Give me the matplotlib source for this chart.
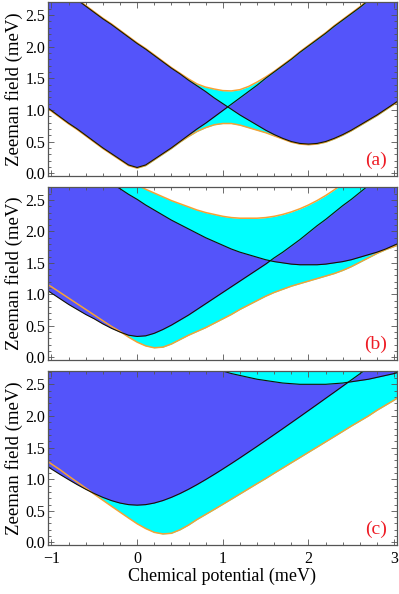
import matplotlib
matplotlib.use("Agg")
import matplotlib.pyplot as plt
import numpy as np
from matplotlib.ticker import MultipleLocator

plt.rcParams['font.family'] = ['Liberation Serif', 'DejaVu Serif']

# potencial químico (meV) onde as curvas foram lidas
mu = [-1.1, -1.0, -0.9, -0.8, -0.7, -0.6, -0.5, -0.4, -0.3, -0.2, -0.1,
      0.0, 0.1, 0.2, 0.3, 0.4, 0.5, 0.6, 0.7, 0.8, 0.9, 1.0,
      1.1, 1.2, 1.3, 1.4, 1.5, 1.6, 1.7, 1.8, 1.9, 2.0,
      2.1, 2.2, 2.3, 2.4, 2.5, 2.6, 2.7, 2.8, 2.9, 3.0, 3.1]

# painel (a)
a_black1 = [1.09, 0.99, 0.89, 0.79, 0.70, 0.60, 0.50, 0.40, 0.31, 0.22, 0.13,
            0.09, 0.13, 0.22, 0.31, 0.40, 0.50, 0.60, 0.70, 0.79, 0.89, 0.99,
            1.09, 1.19, 1.29, 1.39, 1.50, 1.60, 1.70, 1.80, 1.91, 2.01,
            2.11, 2.21, 2.32, 2.42, 2.52, 2.62, 2.73, 2.83, 2.93, 3.03, 3.13]
a_black2 = [3.13, 3.03, 2.94, 2.84, 2.74, 2.64, 2.54, 2.44, 2.35, 2.25, 2.15,
            2.05, 1.96, 1.86, 1.76, 1.66, 1.57, 1.47, 1.38, 1.29, 1.19, 1.10,
            1.01, 0.92, 0.84, 0.76, 0.68, 0.61, 0.55, 0.50, 0.47, 0.46,
            0.47, 0.50, 0.55, 0.61, 0.68, 0.76, 0.84, 0.92, 1.01, 1.10, 1.19]
a_orange_lo = [1.08, 0.98, 0.88, 0.78, 0.69, 0.59, 0.49, 0.39, 0.30, 0.21, 0.12,
               0.08, 0.12, 0.21, 0.30, 0.39, 0.49, 0.58, 0.66, 0.72, 0.765, 0.785,
               0.785, 0.76, 0.72, 0.68, 0.64, 0.59, 0.54, 0.49, 0.46, 0.45,
               0.46, 0.49, 0.54, 0.60, 0.67, 0.75, 0.83, 0.91, 1.00, 1.09, 1.18]
a_orange_up = [3.14, 3.04, 2.95, 2.85, 2.75, 2.65, 2.55, 2.45, 2.36, 2.26, 2.16,
               2.06, 1.97, 1.87, 1.77, 1.67, 1.58, 1.49, 1.41, 1.36, 1.33, 1.305,
               1.30, 1.32, 1.37, 1.44, 1.52, 1.61, 1.71, 1.81, 1.92, 2.02,
               2.12, 2.22, 2.33, 2.43, 2.53, 2.63, 2.74, 2.84, 2.94, 3.04, 3.14]

# painel (b)
b_black1 = [1.11, 1.02, 0.93, 0.84, 0.76, 0.68, 0.61, 0.53, 0.46, 0.40, 0.35,
            0.33, 0.34, 0.38, 0.44, 0.51, 0.59, 0.67, 0.76, 0.85, 0.94, 1.03,
            1.12, 1.21, 1.30, 1.39, 1.48, 1.58, 1.67, 1.77, 1.87, 1.98,
            2.09, 2.19, 2.30, 2.41, 2.51, 2.62, 2.73, 2.84, 2.94, 3.05, 3.15]
b_black2 = [3.48, 3.39, 3.30, 3.21, 3.12, 3.03, 2.94, 2.85, 2.76, 2.68, 2.59,
            2.51, 2.42, 2.34, 2.26, 2.18, 2.11, 2.04, 1.97, 1.90, 1.84, 1.78,
            1.72, 1.67, 1.63, 1.59, 1.55, 1.52, 1.50, 1.48, 1.47, 1.47,
            1.47, 1.48, 1.50, 1.52, 1.55, 1.59, 1.63, 1.67, 1.72, 1.78, 1.84]
b_orange_lo = [1.20, 1.12, 1.03, 0.94, 0.85, 0.76, 0.67, 0.58, 0.49, 0.41, 0.32,
               0.24, 0.18, 0.15, 0.16, 0.21, 0.28, 0.35, 0.41, 0.47, 0.54, 0.61,
               0.68, 0.76, 0.83, 0.90, 0.97, 1.03, 1.08, 1.13, 1.17, 1.21,
               1.25, 1.29, 1.33, 1.38, 1.44, 1.51, 1.58, 1.65, 1.71, 1.76, 1.81]
b_orange_up = [3.62, 3.54, 3.46, 3.38, 3.30, 3.22, 3.14, 3.06, 2.98, 2.90, 2.82,
               2.74, 2.67, 2.61, 2.55, 2.49, 2.44, 2.39, 2.34, 2.30, 2.27, 2.24,
               2.22, 2.21, 2.21, 2.21, 2.22, 2.24, 2.27, 2.31, 2.36, 2.42,
               2.49, 2.57, 2.66, 2.76, 2.86, 2.96, 3.06, 3.16, 3.26, 3.36, 3.46]

# painel (c)
c_black1 = [1.248, 1.161, 1.076, 0.994, 0.915, 0.841, 0.773, 0.713, 0.662, 0.623, 0.598,
            0.590, 0.598, 0.623, 0.662, 0.713, 0.773, 0.841, 0.915, 0.994, 1.076, 1.161,
            1.248, 1.337, 1.428, 1.519, 1.612, 1.705, 1.799, 1.894, 1.989, 2.085,
            2.181, 2.278, 2.374, 2.471, 2.569, 2.666, 2.764, 2.861, 2.959, 3.057, 3.156]
c_black2 = [4.02, 3.94, 3.87, 3.79, 3.72, 3.64, 3.57, 3.50, 3.43, 3.36, 3.30,
            3.23, 3.17, 3.11, 3.05, 3.00, 2.94, 2.89, 2.84, 2.80, 2.75, 2.71,
            2.67, 2.64, 2.61, 2.58, 2.56, 2.54, 2.52, 2.51, 2.50, 2.50,
            2.50, 2.50, 2.51, 2.52, 2.54, 2.56, 2.58, 2.61, 2.64, 2.67, 2.71]
c_orange_lo = [1.34, 1.24, 1.15, 1.05, 0.955, 0.86, 0.763, 0.668, 0.573, 0.48, 0.387,
               0.296, 0.22, 0.16, 0.135, 0.145, 0.20, 0.275, 0.364, 0.443, 0.522, 0.603,
               0.684, 0.766, 0.848, 0.93, 1.01, 1.095, 1.177, 1.26, 1.342, 1.425,
               1.507, 1.59, 1.673, 1.756, 1.84, 1.92, 2.00, 2.09, 2.17, 2.25, 2.34]

panel_labels = ["(a)", "(b)", "(c)"]
y_ticks = [0.0, 0.5, 1.0, 1.5, 2.0, 2.5]
x_ticks = [-1, 0, 1, 2, 3]

blue = '#5454FA'
cyan = '#00FFFF'
orange = '#F7A234'

panels = [
    (a_black1, a_black2, a_orange_lo, a_orange_up),
    (b_black1, b_black2, b_orange_lo, b_orange_up),
    (c_black1, c_black2, c_orange_lo, None),
]
rects = [[0.1203, 0.7042, 0.874, 0.2929],
         [0.1203, 0.3944, 0.874, 0.2912],
         [0.1203, 0.0825, 0.874, 0.2929]]

fig = plt.figure(figsize=(3.99, 5.94), dpi=100)
x = np.array(mu)

for i, ((bk1, bk2, olo, oup), rect) in enumerate(zip(panels, rects)):
    ax = fig.add_axes(rect)
    bk1 = np.array(bk1)
    bk2 = np.array(bk2)
    olo = np.array(olo)
    if oup is None:
        upper = np.full_like(x, 5.0)
    else:
        upper = np.array(oup)

    # regiões: ciano entre as laranjas, azul entre as pretas
    ax.fill_between(x, olo, upper, color=cyan, lw=0)
    ax.fill_between(x, bk1, bk2, color=blue, lw=0)

    ax.plot(x, olo, color=orange, lw=1.1)
    if oup is not None:
        ax.plot(x, upper, color=orange, lw=1.1)
    ax.plot(x, bk1, color='#151500', lw=0.8)
    ax.plot(x, bk2, color='#151500', lw=0.8)

    ax.set_xlim(-1.04, 3.03)
    ax.set_ylim(-0.04, 2.71)
    ax.set_xticks(x_ticks)
    ax.set_yticks(y_ticks)
    ax.set_yticklabels([f"{v:.1f}" for v in y_ticks])
    ax.xaxis.set_minor_locator(MultipleLocator(0.2))
    ax.yaxis.set_minor_locator(MultipleLocator(0.1))
    ax.tick_params(which='both', direction='in', top=True, right=True,
                   color='#555555', width=0.6, labelsize=11.5, pad=2)
    ax.tick_params(which='major', length=4)
    ax.tick_params(which='minor', length=2)
    for s in ax.spines.values():
        s.set_color('#555555')
        s.set_linewidth(0.9)
    if i < 2:
        ax.tick_params(labelbottom=False)
    else:
        ax.tick_params(axis='x', pad=4)
        ax.set_xlabel("Chemical potential (meV)", fontsize=13, labelpad=1)
    ax.set_ylabel("Zeeman field (meV)", fontsize=13.5, labelpad=2)
    ax.text(0.94, 0.09, panel_labels[i], transform=ax.transAxes, color='#EE1C25',
            fontsize=14, ha='center', va='center')

fig.savefig("out.png", dpi=100)
